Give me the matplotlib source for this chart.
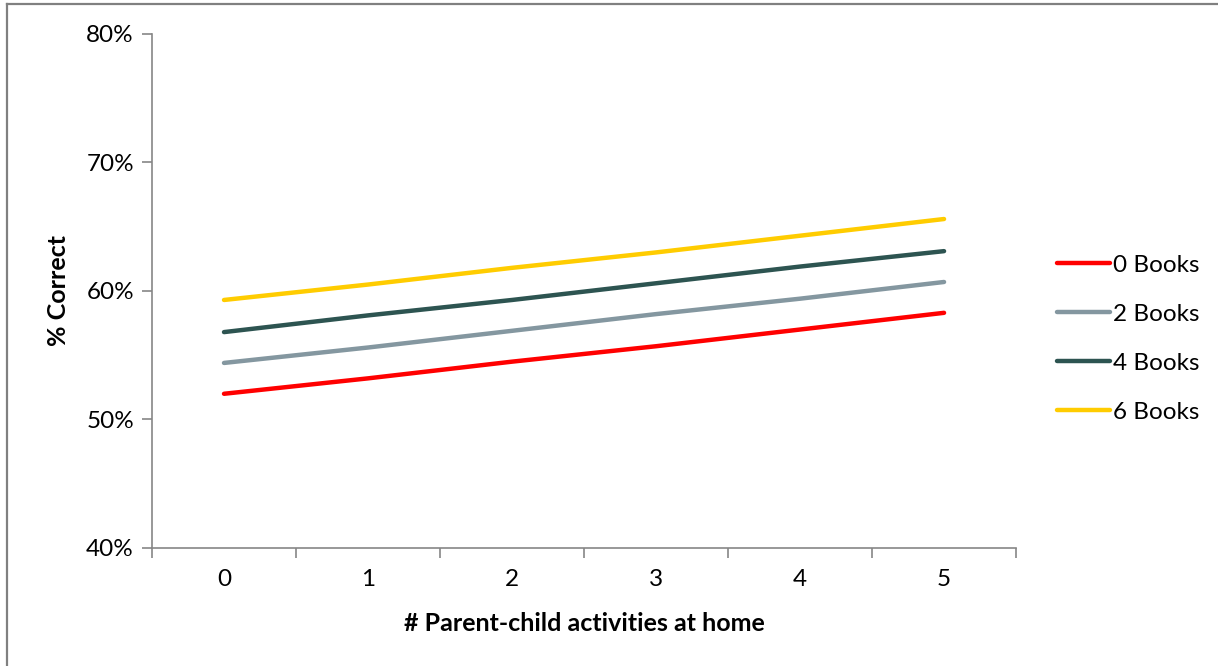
import matplotlib
matplotlib.use('Agg')
from matplotlib import pyplot as plt
from matplotlib.lines import Line2D
from matplotlib.ticker import FixedLocator, PercentFormatter

plt.rcParams['font.family'] = ['Lato', 'DejaVu Sans']

# data
activities = [0, 1, 2, 3, 4, 5]
books_0 = [52.0, 53.2, 54.5, 55.7, 57.0, 58.3]
books_2 = [54.4, 55.6, 56.9, 58.2, 59.4, 60.7]
books_4 = [56.8, 58.1, 59.3, 60.6, 61.9, 63.1]
books_6 = [59.3, 60.5, 61.8, 63.0, 64.3, 65.6]
series_names = ['0 Books', '2 Books', '4 Books', '6 Books']
colors = ['#FF0000', '#8497A0', '#2D5451', '#FFCC00']

fig = plt.figure(figsize=(12.18, 6.66), dpi=100)
ax = fig.add_axes([0.1248, 0.1772, 0.7094, 0.7718])

for vals, name, c in zip([books_0, books_2, books_4, books_6], series_names, colors):
    ax.plot(activities, vals, color=c, lw=3.2, label=name, solid_capstyle='round')

ax.set_xlim(-0.5, 5.5)
ax.set_ylim(40, 80)
ax.set_yticks([40, 50, 60, 70, 80])
ax.yaxis.set_major_formatter(PercentFormatter(decimals=0))
ax.set_xticks(activities)
ax.xaxis.set_minor_locator(FixedLocator([x - 0.5 for x in activities] + [5.5]))
ax.tick_params(axis='x', which='major', length=0, pad=15, labelsize=17.5)
ax.tick_params(axis='x', which='minor', length=7, width=1.2, color='#868686', direction='out')
ax.tick_params(axis='y', length=7, width=1.2, color='#868686', labelsize=17.5, pad=6)

for s in ['top', 'right']:
    ax.spines[s].set_visible(False)
for s in ['left', 'bottom']:
    ax.spines[s].set_color('#868686')
    ax.spines[s].set_linewidth(1.2)

ax.set_xlabel('# Parent-child activities at home', fontsize=18, fontweight='bold', labelpad=16)
ax.set_ylabel('% Correct', fontsize=18, fontweight='bold', labelpad=12)

ax.legend(loc='upper left', bbox_to_anchor=(0.8595, 0.632), bbox_transform=fig.transFigure,
          frameon=False, fontsize=17.5, handlelength=2.2, handletextpad=0.12,
          labelspacing=1.15, borderaxespad=0)

# outer frame (top and left edges visible in reference)
fig.add_artist(Line2D([7 / 1218, 1], [1 - 4 / 666, 1 - 4 / 666], color='#808080', lw=1.6, transform=fig.transFigure))
fig.add_artist(Line2D([7 / 1218, 7 / 1218], [0, 1 - 4 / 666], color='#808080', lw=1.6, transform=fig.transFigure))

plt.savefig('out.png', dpi=100)
plt.close()
